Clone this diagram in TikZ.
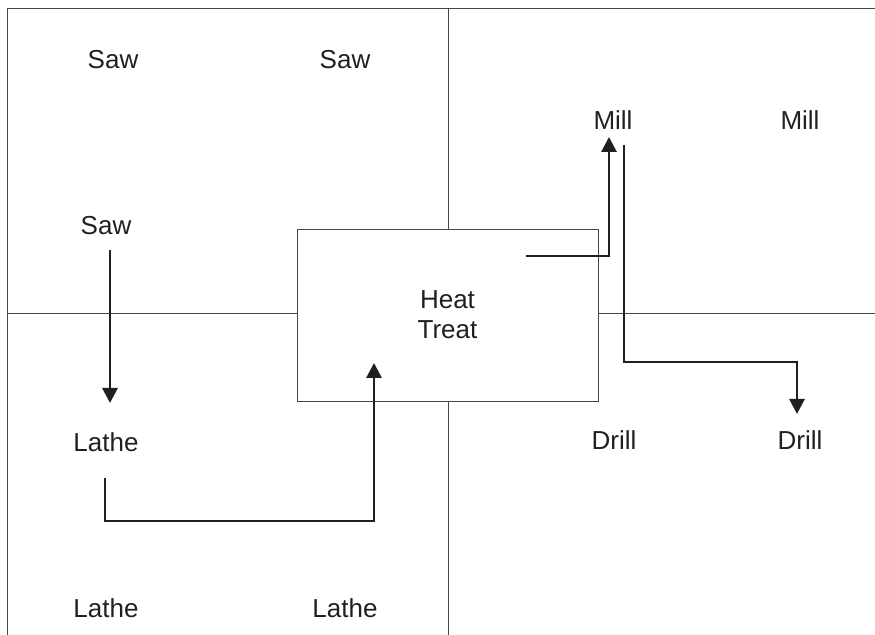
\documentclass[tikz,border=0pt]{standalone}
\usepackage{fontspec}
\setmainfont{Liberation Sans}
\usepackage{tikz}
\usetikzlibrary{arrows.meta,calc}
\definecolor{inkgray}{RGB}{35,31,32}
\definecolor{linegray}{RGB}{70,70,70}
\tikzset{
  frame/.style={draw=linegray,line width=0.45pt},
  station/.style={font=\fontsize{13}{15}\selectfont,text=inkgray,
    align=center,inner sep=0pt},
  cell/.style={draw=linegray,line width=0.45pt,fill=white,
    minimum width=150.5pt,minimum height=86pt,outer sep=0pt,
    font=\fontsize{13}{15}\selectfont,text=inkgray,align=center},
  flow/.style={-{Triangle[length=7.5pt,width=7.5pt]},line width=1.4pt,
    draw=inkgray}
}
\begin{document}
\begin{tikzpicture}[x=0.5pt,y=-0.5pt]
  \useasboundingbox (0,0) rectangle (875,635);

  % heat treat cell in the middle
  \node[cell] (heat) at (447.5,315) {Heat\\Treat};

  % floor plan lines
  \draw[frame] (7,635) -- (7,8) -- (875,8);
  \draw[frame] (448,8) -- (448,229);
  \draw[frame] (448,401) -- (448,635);
  \draw[frame] (7,313) -- (heat.west |- 0,313);
  \draw[frame] (heat.east |- 0,313) -- (875,313);

  % stations
  \node[station] (saw1) at (113,60) {Saw};
  \node[station] (saw2) at (345,60) {Saw};
  \node[station] (saw3) at (106,226) {Saw};
  \node[station] (mill1) at (613,120) {Mill};
  \node[station] (mill2) at (800,120) {Mill};
  \node[station] (lathe1) at (106,442) {Lathe};
  \node[station] (lathe2) at (106,608) {Lathe};
  \node[station] (lathe3) at (345,608) {Lathe};
  \node[station] (drill1) at (614,440) {Drill};
  \node[station] (drill2) at (800,440) {Drill};

  % routing of the part
  \coordinate (sawout) at (110,250);
  \coordinate (lathein) at (110,403);
  \coordinate (latheout) at (105,478);
  \coordinate (heatin) at (374,363);
  \coordinate (heatout) at (526,256);
  \coordinate (millin) at (609,137);
  \coordinate (millout) at (624,145);
  \coordinate (drillin) at (797,414);

  \draw[flow] (sawout) -- (lathein);
  \draw[flow] (latheout) -- ++(0,43) -| (heatin);
  \draw[flow] (heatout) -| (millin);
  \draw[flow] (millout) -- ++(0,217) -| (drillin);
\end{tikzpicture}
\end{document}
